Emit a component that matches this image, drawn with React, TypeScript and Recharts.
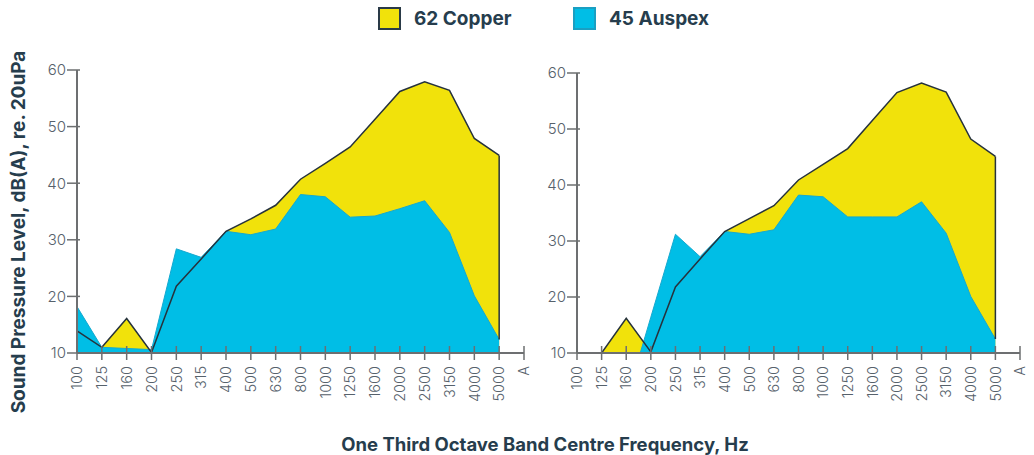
import { AreaChart, Area, XAxis, YAxis, ReferenceLine } from 'recharts';

const freqs = ['100', '125', '160', '200', '250', '315', '400', '500', '630', '800', '1000', '1250', '1600', '2000', '2500', '3150', '4000', '5000', 'A'];
const yTicks = [10, 20, 30, 40, 50, 60];

const copperLeft = [13.9, 11.0, 16.1, 10.1, 21.8, 26.6, 31.5, 33.7, 36.1, 40.7, 43.5, 46.4, 51.3, 56.2, 57.9, 56.4, 47.9, 44.9, null];
const auspexLeft = [18.2, 11.0, 10.8, 10.6, 28.4, 26.9, 31.5, 30.9, 31.9, 38.0, 37.6, 34.0, 34.2, 35.5, 36.9, 31.3, 20.1, 12.4, null];

const copperRight = [10, 10, 16.2, 10.2, 21.8, 26.8, 31.7, 34.0, 36.3, 40.9, 43.7, 46.5, 51.5, 56.5, 58.2, 56.6, 48.2, 45.1, null];
const auspexRight = [null, null, 1.5, 16.4, 31.2, 27.2, 31.7, 31.2, 32.0, 38.2, 37.9, 34.3, 34.3, 34.3, 37.0, 31.4, 20.1, 12.5, null];

const YELLOW = '#f1e20b';
const CYAN = '#00bee6';
const INK = '#263d4d';
const AXIS = '#6d6f71';
const TICK_TEXT = '#56616b';
const FONT = 'Inter, "Open Sans", sans-serif';

const XTick = ({ x, y, payload }: any) => (
  <g transform={`translate(${x},${y})`}>
    <line x1={0} x2={0} y1={-7} y2={7} stroke={AXIS} strokeWidth={1.5} />
    <text
      transform="rotate(-90)"
      x={-13}
      y={0}
      dy="0.36em"
      textAnchor="end"
      fontSize={14.5}
      fontWeight={300}
      fontFamily={FONT}
      fill={TICK_TEXT}
    >
      {payload.value}
    </text>
  </g>
);

const YTick = ({ x, y, payload }: any) => (
  <g transform={`translate(${x},${y})`}>
    <line x1={-10} x2={3} y1={0} y2={0} stroke={AXIS} strokeWidth={1.5} />
    <text x={-11} y={0} dy="0.36em" textAnchor="end" fontSize={15} fontWeight={300} fontFamily={FONT} fill={TICK_TEXT}>
      {payload.value}
    </text>
  </g>
);

function Panel({
  copper,
  auspex,
  margin,
  width,
}: {
  copper: (number | null)[];
  auspex: (number | null)[];
  margin: { top: number; right: number; bottom: number; left: number };
  width: number;
}) {
  const data = freqs.map((f, i) => ({ freq: f, copper: copper[i], auspex: auspex[i] }));
  const last = freqs.length - 2;
  return (
    <AreaChart width={width} height={455} data={data} margin={margin}>
      <Area dataKey="copper" type="linear" fill={YELLOW} fillOpacity={1} stroke="none" isAnimationActive={false} />
      <Area dataKey="auspex" type="linear" fill={CYAN} fillOpacity={1} stroke="#15a9cf" strokeWidth={1} isAnimationActive={false} />
      <Area dataKey="copper" type="linear" fill="none" fillOpacity={0} stroke="#26323c" strokeWidth={1.5} isAnimationActive={false} />
      <ReferenceLine
        segment={[
          { x: freqs[last], y: auspex[last] as number },
          { x: freqs[last], y: copper[last] as number },
        ]}
        stroke="#26323c"
        strokeWidth={1.5}
      />
      <XAxis
        dataKey="freq"
        height={1}
        tickSize={0}
        tickMargin={0}
        tickLine={false}
        interval={0}
        axisLine={{ stroke: AXIS, strokeWidth: 2 }}
        tick={<XTick />}
      />
      <YAxis
        type="number"
        domain={[10, 60]}
        ticks={yTicks}
        allowDataOverflow
        width={1}
        tickSize={0}
        tickMargin={0}
        tickLine={false}
        axisLine={{ stroke: AXIS, strokeWidth: 2 }}
        tick={<YTick />}
      />
    </AreaChart>
  );
}

const LegendItem = ({ color, border, label }: { color: string; border: string; label: string }) => (
  <div style={{ display: 'flex', alignItems: 'center' }}>
    <div style={{ width: 19, height: 19, background: color, border: `2px solid ${border}` }} />
    <span style={{ marginLeft: 13, fontSize: 19, fontWeight: 700, color: INK, fontFamily: FONT }}>{label}</span>
  </div>
);

export default function App() {
  return (
    <div style={{ position: 'absolute', left: 0, top: 0, width: 1034, height: 455, background: '#fff', overflow: 'hidden' }}>
      <div style={{ position: 'absolute', left: 0, top: 0 }}>
        <Panel copper={copperLeft} auspex={auspexLeft} width={540} margin={{ top: 70, right: 16, bottom: 101, left: 76 }} />
      </div>
      <div style={{ position: 'absolute', left: 500, top: 0 }}>
        <Panel copper={copperRight} auspex={auspexRight} width={534} margin={{ top: 73, right: 14, bottom: 101, left: 76 }} />
      </div>
      <div style={{ position: 'absolute', left: 378, top: 7, display: 'flex', gap: 0 }}>
        <div style={{ width: 195 }}>
          <LegendItem color={YELLOW} border="#2a3a47" label="62 Copper" />
        </div>
        <LegendItem color={CYAN} border="#1a9fc2" label="45 Auspex" />
      </div>
      <div
        style={{
          position: 'absolute',
          left: 18,
          top: 232,
          transform: 'translate(-50%, -50%) rotate(-90deg)',
          whiteSpace: 'nowrap',
          fontSize: 19,
          fontWeight: 700,
          color: INK,
          fontFamily: FONT,
        }}
      >
        Sound Pressure Level, dB(A), re. 20uPa
      </div>
      <div
        style={{
          position: 'absolute',
          left: 545,
          top: 444,
          transform: 'translate(-50%, -50%)',
          whiteSpace: 'nowrap',
          fontSize: 18.5,
          fontWeight: 700,
          color: INK,
          fontFamily: FONT,
        }}
      >
        One Third Octave Band Centre Frequency, Hz
      </div>
    </div>
  );
}
